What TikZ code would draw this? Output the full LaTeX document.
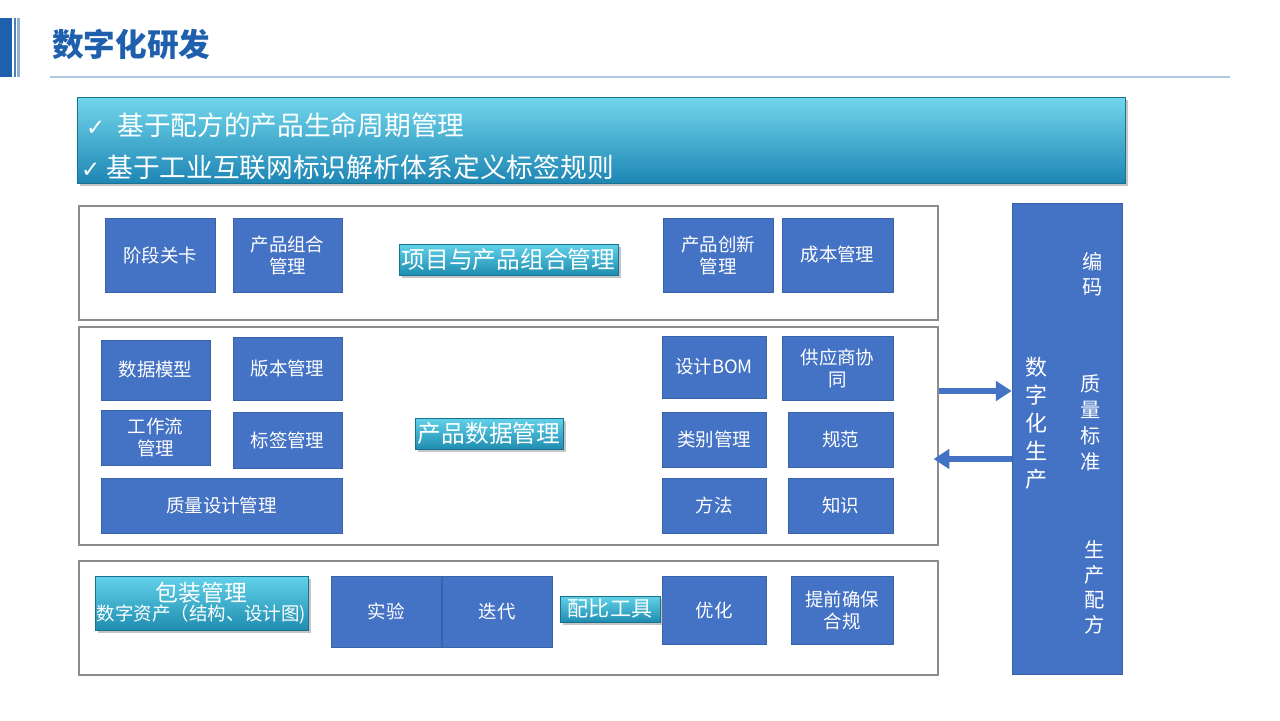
\documentclass[tikz,border=0pt]{standalone}
\usepackage{fontspec}
\setmainfont{Noto Sans CJK SC}
\newfontfamily\symfont{DejaVu Sans}
\usepackage{tikz}
\usetikzlibrary{arrows.meta,shadows,calc}
\definecolor{blk}{HTML}{4472C4}
\definecolor{blkline}{HTML}{3A62A8}
\definecolor{tealtop}{HTML}{62D2EA}
\definecolor{tealbot}{HTML}{1F8DB0}
\definecolor{ttl}{HTML}{1E5FAE}
\tikzstyle{blkbox}=[rectangle,fill=blk,draw=blkline,line width=0.4pt,text=white,align=center,font=\fontsize{10.5pt}{12.5pt}\selectfont,inner sep=1pt]
\tikzstyle{frame}=[rectangle,draw=black!45,line width=0.7pt,fill=white]
\tikzstyle{tag}=[rectangle,top color=tealtop,bottom color=tealbot,draw=tealbot!80!black,line width=0.3pt,text=white,align=center,inner sep=1pt,drop shadow={opacity=0.45,shadow xshift=1.5pt,shadow yshift=-1.5pt}]
\tikzstyle{bigarr}=[draw=blk,line width=3.2pt,-{Triangle[length=9pt,width=11pt]}]
\tikzstyle{vtext}=[text=white,align=center,inner sep=0pt]

\begin{document}
\begin{tikzpicture}[x=0.02cm,y=-0.02cm]
    \useasboundingbox[fill=white] (0,0) rectangle (1280,720);

    % title
    \fill[ttl] (0,18) rectangle (12,77);
    \fill[ttl!80] (14,18) rectangle (16,77);
    \fill[ttl!50] (17,18) rectangle (20,77);
    \node[anchor=west,text=ttl,font=\fontsize{18pt}{21pt}\selectfont\bfseries] (title) at (46,44) {数字化研发};
    \draw[color=ttl!35,line width=0.8pt] (50,77) -- (1230,77);

    % banner
    \node[tag,minimum width=1048*0.02cm,minimum height=86*0.02cm,top color=tealtop!90!white,bottom color=tealbot!95!blue] (banner) at (601,140) {};
    \node[anchor=west,text=white,font=\fontsize{15.2pt}{17pt}\selectfont] (l1) at (80,125) {{\symfont\fontsize{13pt}{14pt}\selectfont ✓}\ \ 基于配方的产品生命周期管理};
    \node[anchor=west,text=white,font=\fontsize{15.2pt}{17pt}\selectfont] (l2) at (75,167) {{\symfont\fontsize{13pt}{14pt}\selectfont ✓}\ 基于工业互联网标识解析体系定义标签规则};

    % frames
    \foreach \name/\x/\y/\h in {pfm/508.5/263/114, pdm/508.5/436/218, tool/508.5/618/114}
        \node[frame,minimum width=859*0.02cm,minimum height=\h*0.02cm] (\name) at (\x,\y) {};

    % blue boxes
    \foreach \name/\x/\y/\w/\h/\txt in {
    gate/160/255/110/74/阶段关卡, port/287.5/255/109/74/{产品组合\\管理},
    innov/718/255/110/74/{产品创新\\管理}, cost/837.5/255/111/74/成本管理,
    model/155.5/370/109/60/数据模型, ver/287.5/368.5/109/63/版本管理,
    flow/155.5/437.5/109/55/{工作流\\管理}, label/287.5/440/109/56/标签管理,
    qbd/221.5/505.5/241/55/质量设计管理,
    bom/714/367/104/62/设计BOM, supp/837.5/368/111/64/{供应商协\\同},
    cat/714/439.5/104/55/类别管理, spec/840.5/439.5/105/55/规范,
    meth/714/505.5/104/55/方法, know/840.5/505.5/105/55/知识,
    exp/386/611.5/110/71/实验, iter/497/611.5/110/71/迭代,
    opt/714/610/104/68/优化, comp/842/610/102/68/{提前确保\\合规}}
        \node[blkbox,minimum width=\w*0.02cm,minimum height=\h*0.02cm] (\name) at (\x,\y) {\txt};

    % section labels
    \node[tag,minimum width=219*0.02cm,minimum height=31*0.02cm,font=\fontsize{13.5pt}{15pt}\selectfont] (pfmtag) at (508.5,259.5) {项目与产品组合管理};
    \node[tag,minimum width=148*0.02cm,minimum height=31*0.02cm,font=\fontsize{13.5pt}{15pt}\selectfont] (pdmtag) at (489,433.5) {产品数据管理};
    \node[tag,minimum width=100*0.02cm,minimum height=26*0.02cm,font=\fontsize{12pt}{13pt}\selectfont] (mixtag) at (610,609) {配比工具};
    \node[tag,minimum width=213*0.02cm,minimum height=54*0.02cm] (packtag) at (201.5,603)
        {{\fontsize{13pt}{14pt}\selectfont 包装管理}\\[-1pt]{\fontsize{10.5pt}{11pt}\selectfont 数字资产（结构、设计图)}};

    % production column
    \node[blkbox,minimum width=110*0.02cm,minimum height=471*0.02cm] (prod) at (1067,438.5) {};
    \node[vtext,font=\fontsize{12.5pt}{15.9pt}\selectfont] (prodtxt) at (1036,423) {数\\字\\化\\生\\产};
    \node[vtext,font=\fontsize{11.5pt}{14.2pt}\selectfont] (code) at (1093,274) {编\\码};
    \node[vtext,font=\fontsize{11.5pt}{14.7pt}\selectfont] (qstd) at (1091,423) {质\\量\\标\\准};
    \node[vtext,font=\fontsize{11.5pt}{14.2pt}\selectfont] (recipe) at (1095,587) {生\\产\\配\\方};

    % arrows
    \coordinate (out) at ($(pdm.east)+(0,-45)$);
    \coordinate (back) at ($(pdm.east)+(-5,23)$);
    \path[bigarr] (out) -- (out -| prod.west);
    \path[bigarr] (back -| prod.west) -- (back);
\end{tikzpicture}
\end{document}
